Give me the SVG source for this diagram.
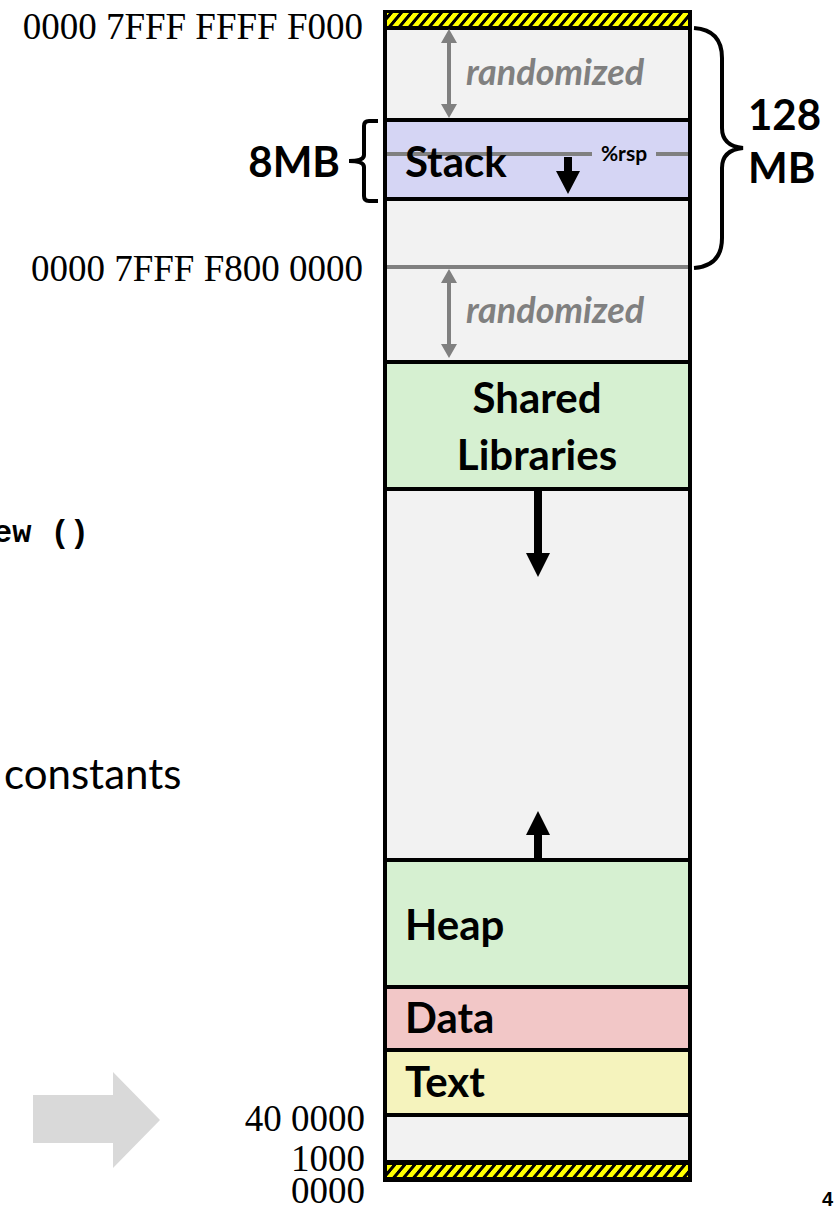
<svg xmlns="http://www.w3.org/2000/svg" width="840" height="1208" viewBox="0 0 840 1208">
<defs>
<pattern id="hazard" x="0" y="0" width="10" height="20" patternUnits="userSpaceOnUse" patternTransform="skewX(-40)">
<rect x="0" y="0" width="10" height="20" fill="#ffff00"/>
<rect x="0" y="0" width="4" height="20" fill="#000"/>
</pattern>
<style>
.addr{font-family:"Liberation Serif",serif;font-size:37px;fill:#000}
.lbl{font-family:Lato,"Open Sans",sans-serif;font-weight:bold;font-size:42px;fill:#000}
.rnd{font-family:Lato,"Open Sans",sans-serif;font-weight:bold;font-style:italic;font-size:36px;fill:#808080}
.seg{stroke:#000;stroke-width:4}
.gray{fill:#f2f2f2}
.green{fill:#d6f0d1}
</style>
</defs>
<rect width="840" height="1208" fill="#fff"/>

<g id="text-left">
<text x="-7" y="542" font-family="Liberation Mono,monospace" font-weight="bold" font-size="32">ew ()</text>
<text x="4" y="789" font-family="Lato,sans-serif" font-size="42">constants</text>
</g>

<g id="big-arrow">
<polygon points="33,1095 113,1095 113,1072 160,1120 113,1168 113,1143 33,1143" fill="#d9d9d9"/>
</g>

<g id="address-labels">
<text class="addr" x="363" y="39" text-anchor="end">0000 7FFF FFFF F000</text>
<text class="addr" x="363" y="281" text-anchor="end">0000 7FFF F800 0000</text>
<text class="addr" x="365" y="1131" text-anchor="end">40 0000</text>
<text class="addr" x="365" y="1171" text-anchor="end" font-size="35">1000</text>
<text class="addr" x="365" y="1203" text-anchor="end" font-size="35">0000</text>
</g>

<g id="column">
<rect id="hazard-top" x="383" y="10" width="309" height="19" fill="#000"/>
<rect x="387" y="13" width="301" height="13" fill="url(#hazard)"/>
<rect id="gap1" class="gray seg" x="385" y="28" width="305" height="92"/>
<rect id="stack" class="seg" x="385" y="120" width="305" height="79" fill="#d5d5f4"/>
<rect id="gap2" class="gray seg" x="385" y="199" width="305" height="163"/>
<rect id="shared" class="green seg" x="385" y="362" width="305" height="127"/>
<rect id="gap3" class="gray seg" x="385" y="489" width="305" height="371"/>
<rect id="heap" class="green seg" x="385" y="860" width="305" height="127"/>
<rect id="data" class="seg" x="385" y="987" width="305" height="63" fill="#f2c7c7"/>
<rect id="textseg" class="seg" x="385" y="1050" width="305" height="65" fill="#f5f3bd"/>
<rect id="gap4" class="gray seg" x="385" y="1115" width="305" height="47"/>
<rect id="hazard-bottom" x="383" y="1161" width="309" height="21" fill="#000"/>
<rect x="387" y="1165" width="301" height="12" fill="url(#hazard)"/>
</g>

<g id="rsp-line">
<line x1="387" y1="154" x2="592" y2="154" stroke="#808080" stroke-width="4"/>
<line x1="656" y1="154" x2="688" y2="154" stroke="#808080" stroke-width="4"/>
<text x="624" y="161" text-anchor="middle" font-family="Lato,sans-serif" font-weight="bold" font-size="21">%rsp</text>
</g>
<line id="mmap-line" x1="387" y1="267" x2="688" y2="267" stroke="#808080" stroke-width="4"/>

<g id="segment-labels">
<text class="lbl" x="405" y="177">Stack</text>
<text class="lbl" x="537" y="413" text-anchor="middle">Shared</text>
<text class="lbl" x="537" y="470" text-anchor="middle">Libraries</text>
<text class="lbl" x="405" y="940">Heap</text>
<text class="lbl" x="405" y="1033">Data</text>
<text class="lbl" x="405" y="1097">Text</text>
<text class="rnd" x="466" y="85">randomized</text>
<text class="rnd" x="466" y="323">randomized</text>
</g>

<g id="connectors">
<path d="M449 29 L457 43 L451 43 L451 104 L457 104 L449 118 L441 104 L447 104 L447 43 L441 43 Z" fill="#808080"/>
<path d="M449 269 L457 283 L451 283 L451 344 L457 344 L449 358 L441 344 L447 344 L447 283 L441 283 Z" fill="#808080"/>
<path d="M564 157 H572 V171 H580 L568 194 L556 171 H564 Z" fill="#000"/>
<path d="M534 489 H542 V553 H550 L538 577 L526 553 H534 Z" fill="#000"/>
<path d="M534 860 H542 V835 H550 L538 811 L526 835 H534 Z" fill="#000"/>
</g>

<g id="braces" fill="none" stroke="#000" stroke-width="4">
<path d="M378 121 H369 Q364 121 364 126 V155 Q364 161 349 161 Q364 161 364 167 V196 Q364 201 369 201 H378"/>
<path d="M694 28 Q722 30 722 58 V128 Q722 146 743 148 Q722 150 722 168 V238 Q722 266 694 268"/>
</g>

<g id="size-labels">
<text class="lbl" x="340" y="177" text-anchor="end">8MB</text>
<text class="lbl" x="748" y="130">128</text>
<text class="lbl" x="748" y="183">MB</text>
<text x="822" y="1206" font-family="Liberation Sans,sans-serif" font-weight="bold" font-size="20">4</text>
</g>
</svg>
